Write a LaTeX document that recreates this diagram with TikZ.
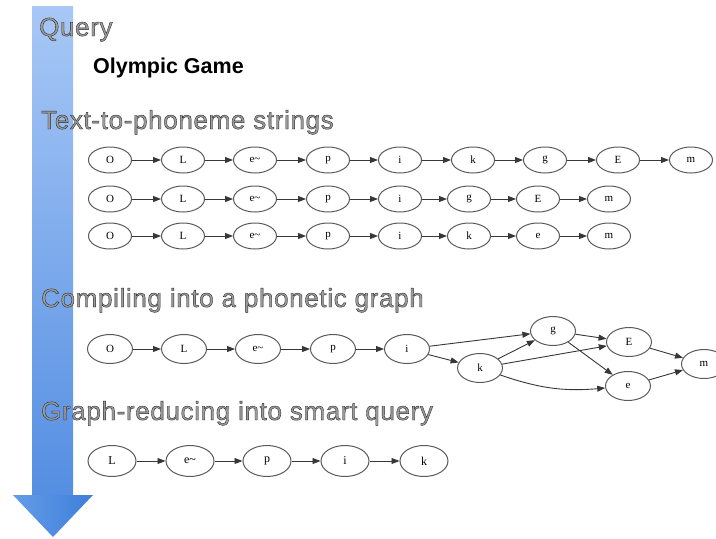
\documentclass[tikz,border=0pt]{standalone}
\usepackage{fontspec}
\setmainfont{Liberation Sans}
\newfontfamily\nodefont{Liberation Serif}
\newfontfamily\headfont[FakeBold=1.4,LetterSpace=2.5]{Liberation Sans}
\usetikzlibrary{arrows.meta,shapes.geometric}
\definecolor{shaftlight}{RGB}{168,200,246}
\definecolor{shaftdark}{RGB}{84,142,226}
\definecolor{headlight}{RGB}{100,156,232}
\definecolor{headdark}{RGB}{62,126,218}
\definecolor{txtgray}{RGB}{155,155,155}
\definecolor{linegray}{RGB}{55,55,55}
\definecolor{rimgray}{RGB}{90,90,90}
\newcommand{\hstroke}{\special{pdf:literal direct 0.15 G}}
\begin{document}
\begin{tikzpicture}[x=1pt,y=-1pt,
  ph/.style={ellipse, draw=rimgray, line width=1pt, minimum width=43pt, minimum height=26pt, inner sep=0pt, font=\nodefont\fontsize{11}{13}\selectfont},
  phg/.style={ph, minimum width=45pt, minimum height=29pt},
  phr/.style={ph, minimum width=48pt, minimum height=31pt, font=\nodefont\fontsize{12}{14}\selectfont},
  conn/.style={draw=linegray, line width=0.9pt, -{Triangle[length=8pt,width=6pt]}},
  heading/.style={anchor=base west, inner sep=0pt, font=\headfont\fontsize{26}{30}\selectfont, text=txtgray},
]
\useasboundingbox (0,0) rectangle (716,539);
% blue process arrow
\shade[top color=shaftlight, bottom color=shaftdark] (32,6) rectangle (73,496);
\shade[left color=headlight, right color=headdark] (13,495) -- (93,495) -- (53,537) -- cycle;

% headings
\node[heading] (hquery) at (39,36) {\hstroke Query};
\node[anchor=base west, inner sep=0pt, font=\bfseries\fontsize{21.5}{26}\selectfont] (title) at (93,73) {Olympic Game};
\node[heading] (htext) at (41,129) {\hstroke Text-to-phoneme strings};
\node[heading] (hcomp) at (41,307) {\hstroke Compiling into a phonetic graph};
\node[heading] (hred) at (41,420) {\hstroke Graph-reducing into smart query};

% row a
\node[ph] (a1) at (110,160) {O};
\node[ph] (a2) at (183,160) {L};
\node[ph] (a3) at (255,160) {e\textasciitilde};
\node[ph] (a4) at (328,160) {p};
\node[ph] (a5) at (400,160) {i};
\node[ph] (a6) at (473,160) {k};
\node[ph] (a7) at (545,160) {g};
\node[ph] (a8) at (618,160) {E};
\node[ph] (a9) at (691,160) {m};
% row b
\node[ph] (b1) at (110,199) {O};
\node[ph] (b2) at (183,199) {L};
\node[ph] (b3) at (255,199) {e\textasciitilde};
\node[ph] (b4) at (328,199) {p};
\node[ph] (b5) at (400,199) {i};
\node[ph] (b6) at (469,199) {g};
\node[ph] (b7) at (538,199) {E};
\node[ph] (b8) at (609,199) {m};
% row c
\node[ph] (c1) at (110,236) {O};
\node[ph] (c2) at (183,236) {L};
\node[ph] (c3) at (255,236) {e\textasciitilde};
\node[ph] (c4) at (328,236) {p};
\node[ph] (c5) at (400,236) {i};
\node[ph] (c6) at (469,236) {k};
\node[ph] (c7) at (538,236) {e};
\node[ph] (c8) at (609,236) {m};

\foreach \u/\v in {a1/a2,a2/a3,a3/a4,a4/a5,a5/a6,a6/a7,a7/a8,a8/a9,
                   b1/b2,b2/b3,b3/b4,b4/b5,b5/b6,b6/b7,b7/b8,
                   c1/c2,c2/c3,c3/c4,c4/c5,c5/c6,c6/c7,c7/c8}
  \draw[conn] (\u) -- (\v);

% phonetic graph
\node[phg] (gO) at (110,349) {O};
\node[phg] (gL) at (184,349) {L};
\node[phg] (gee) at (258,349) {e\textasciitilde};
\node[phg] (gp) at (333,349) {p};
\node[phg] (gi) at (407,349) {i};
\node[phg] (gk) at (480,368) {k};
\node[phg] (gg) at (553,331) {g};
\node[phg] (gE) at (629,342) {E};
\node[phg] (ge) at (628,386) {e};
\node[phg] (gm) at (704,364) {m};

\foreach \u/\v in {gO/gL,gL/gee,gee/gp,gp/gi,gi/gg,gi/gk,gk/gg,gk/gE,gg/gE,gg/ge,gE/gm,ge/gm}
  \draw[conn] (\u) -- (\v);
\draw[conn] (gk) to[bend right=12] (ge);

% reduced query
\node[phr] (r1) at (112,461) {L};
\node[phr] (r2) at (190,461) {e\textasciitilde};
\node[phr] (r3) at (267,461) {p};
\node[phr] (r4) at (345,461) {i};
\node[phr] (r5) at (424,461) {k};
\foreach \u/\v in {r1/r2,r2/r3,r3/r4,r4/r5}
  \draw[conn] (\u) -- (\v);
\end{tikzpicture}
\end{document}
